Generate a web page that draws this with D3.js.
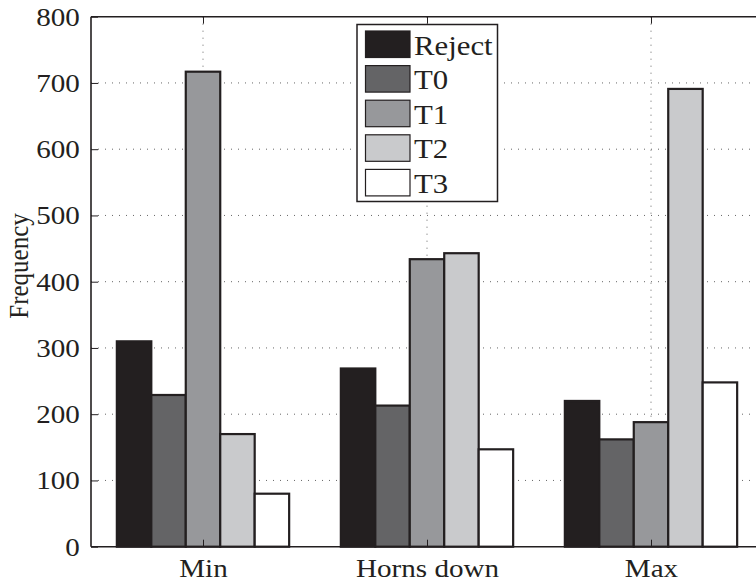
<!DOCTYPE html>
<html>
<head>
<meta charset="utf-8">
<script src="https://cdn.jsdelivr.net/npm/d3@7"></script>
<style>
  html, body { margin: 0; padding: 0; background: #fff; }
  svg { display: block; font-family: "Liberation Serif", "Times New Roman", serif; }
</style>
</head>
<body>
<svg id="chart" width="756" height="585"></svg>
<script>
// Categories and series
const categories = ["Min", "Horns down", "Max"];
const seriesNames = ["Reject", "T0", "T1", "T2", "T3"];
const seriesColors = ["#231f20", "#646466", "#97989b", "#c9cacc", "#ffffff"];
const rejectValues = [310, 269, 220];
const t0Values = [229, 213, 162];
const t1Values = [717, 434, 188];
const t2Values = [170, 443, 691];
const t3Values = [80, 147, 248];
const yTicks = [0, 100, 200, 300, 400, 500, 600, 700, 800];

const seriesValues = [rejectValues, t0Values, t1Values, t2Values, t3Values];

const svg = d3.select("#chart");
const plotLeft = 91, plotTop = 16.7, plotBottom = 546.7, plotRight = 763;
const textColor = "#231f20";
const fontFam = "Liberation Serif, Times New Roman, serif";
const stretch = "scale(1.12,1)";

const x = d3.scaleLinear().domain([0.5, 3.5]).range([plotLeft, plotRight]);
const y = d3.scaleLinear().domain([0, 800]).range([plotBottom, plotTop]);

const nS = seriesNames.length;
const groupWidth = Math.min(0.8, nS / (nS + 1.5));
const barW = groupWidth / nS;

// Dotted grid
const grid = svg.append("g");
yTicks.filter(t => t > 0 && t < 800).forEach(t => {
  grid.append("line")
    .attr("x1", plotLeft).attr("x2", plotRight)
    .attr("y1", y(t)).attr("y2", y(t))
    .attr("stroke", "#666").attr("stroke-width", 1)
    .attr("stroke-dasharray", "1,6");
});
categories.forEach((c, i) => {
  grid.append("line")
    .attr("x1", x(i + 1)).attr("x2", x(i + 1))
    .attr("y1", plotTop).attr("y2", plotBottom)
    .attr("stroke", "#666").attr("stroke-width", 1)
    .attr("stroke-dasharray", "1,6");
});

// Bars
const bars = svg.append("g");
seriesValues.forEach((vals, s) => {
  vals.forEach((v, i) => {
    const x0 = (i + 1) - groupWidth / 2 + s * barW;
    bars.append("rect")
      .attr("x", x(x0))
      .attr("y", y(v))
      .attr("width", x(x0 + barW) - x(x0))
      .attr("height", y(0) - y(v))
      .attr("fill", seriesColors[s])
      .attr("stroke", "#231f20")
      .attr("stroke-width", 2.2);
  });
});

// Axes box
const axisColor = "#231f20";
svg.append("line").attr("x1", plotLeft).attr("x2", plotRight).attr("y1", plotBottom).attr("y2", plotBottom)
  .attr("stroke", axisColor).attr("stroke-width", 1.6);
svg.append("line").attr("x1", plotLeft).attr("x2", plotRight).attr("y1", plotTop).attr("y2", plotTop)
  .attr("stroke", axisColor).attr("stroke-width", 1.6);
svg.append("line").attr("x1", plotLeft).attr("x2", plotLeft).attr("y1", plotTop).attr("y2", plotBottom)
  .attr("stroke", axisColor).attr("stroke-width", 1.6);

// Y axis ticks (inward) and labels
const yAxis = d3.axisLeft(y).tickValues(yTicks).tickSize(-7).tickPadding(10).tickFormat(d3.format("d"));
const gy = svg.append("g").attr("transform", `translate(${plotLeft},0)`).call(yAxis);
gy.select(".domain").remove();
gy.selectAll(".tick line").attr("stroke", axisColor).attr("stroke-width", 1);
gy.selectAll(".tick text").attr("font-size", 26).attr("fill", textColor)
  .attr("font-family", fontFam).attr("transform", stretch);

// X axis ticks (inward at bottom and top) and labels
const xAxis = d3.axisBottom(x).tickValues([1, 2, 3]).tickSize(-7).tickPadding(12)
  .tickFormat((d, i) => categories[i]);
const gx = svg.append("g").attr("transform", `translate(0,${plotBottom})`).call(xAxis);
gx.select(".domain").remove();
gx.selectAll(".tick line").attr("stroke", axisColor).attr("stroke-width", 1);
gx.selectAll(".tick text").attr("font-size", 26).attr("fill", textColor)
  .attr("font-family", fontFam).attr("transform", stretch);

const gxTop = svg.append("g").attr("transform", `translate(0,${plotTop})`)
  .call(d3.axisTop(x).tickValues([1, 2, 3]).tickSize(-7).tickFormat(""));
gxTop.select(".domain").remove();
gxTop.selectAll(".tick line").attr("stroke", axisColor).attr("stroke-width", 1);

// Y axis title
svg.append("text")
  .attr("transform", `translate(28,266) scale(1.12,1) rotate(-90)`)
  .attr("text-anchor", "middle")
  .attr("font-size", 25)
  .attr("fill", textColor)
  .text("Frequency");

// Legend
const lg = svg.append("g");
const lgX = 357, lgY = 24.5, lgW = 140.5, lgH = 177;
lg.append("rect").attr("x", lgX).attr("y", lgY).attr("width", lgW).attr("height", lgH)
  .attr("fill", "#fff").attr("stroke", "#231f20").attr("stroke-width", 1.5);
const rowH = 34.6;
seriesNames.forEach((name, s) => {
  const cy = lgY + 19.5 + s * rowH;
  lg.append("rect").attr("x", 365.5).attr("y", cy - 13).attr("width", 44.5).attr("height", 26.5)
    .attr("fill", seriesColors[s]).attr("stroke", "#231f20").attr("stroke-width", 1.2);
  lg.append("text").attr("transform", `translate(414,${cy + 10.5}) scale(1.1,1)`)
    .attr("font-size", 28).attr("fill", textColor).text(name);
});
</script>
</body>
</html>
